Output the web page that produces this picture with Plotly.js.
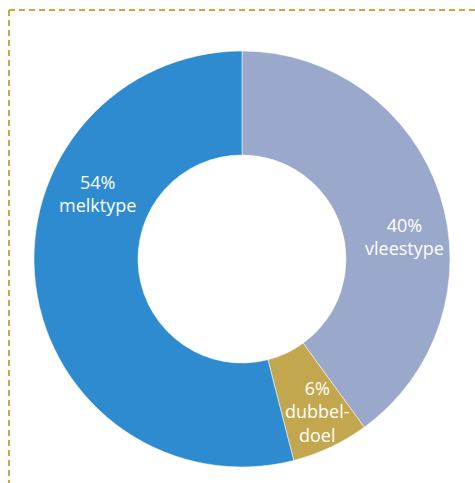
<!DOCTYPE html>
<html><head><meta charset="utf-8">
<script src="https://cdn.plot.ly/plotly-3.0.1.min.js"></script>
<style>html,body{margin:0;padding:0;background:#fff}#chart{width:475px;height:483px}</style>
</head><body><div id="chart"></div>
<script>
const categories = ["vleestype", "dubbeldoel", "melktype"];
const values = [40, 6, 54];
const labelLines = [["vleestype"], ["dubbel-", "doel"], ["melktype"]];
const colors = ["#9aa8cb", "#c3a74e", "#2e8bd0"];

const W = 475, H = 483;
// label block centre in pixels, per slice
const labelAnchors = [
  { x: 404, y: 237 },
  { x: 317, y: 411 },
  { x: 97.5, y: 193 }
];

const trace = {
  type: "pie",
  labels: categories,
  values: values,
  textinfo: "none",
  hoverinfo: "label+percent",
  sort: false,
  direction: "clockwise",
  rotation: 0,
  hole: 0.5,
  marker: { colors: colors, line: { color: "#ffffff", width: 0.5 } },
  domain: { x: [34 / W, 450 / W], y: [16 / H, 432 / H] },
  showlegend: false
};

const annotations = values.map((v, i) => ({
  xref: "paper", yref: "paper",
  x: labelAnchors[i].x / W, y: 1 - labelAnchors[i].y / H,
  xanchor: "center", yanchor: "middle",
  borderpad: 0,
  text: [v + "%"].concat(labelLines[i]).join("<br>"),
  showarrow: false,
  font: { family: "Open Sans, sans-serif", size: 18, color: "#ffffff" }
}));

const dash = { color: "#c9a84a", width: 2, dash: "6px,4px" };
const layout = {
  width: W, height: H,
  margin: { l: 0, r: 0, t: 0, b: 0 },
  paper_bgcolor: "#ffffff",
  showlegend: false,
  annotations: annotations,
  shapes: [
    { type: "line", xref: "paper", yref: "paper", x0: 9 / W, x1: 1, y0: 1 - 10 / H, y1: 1 - 10 / H, line: dash },
    { type: "line", xref: "paper", yref: "paper", x0: 9 / W, x1: 9 / W, y0: 1 - 10 / H, y1: 0, line: dash }
  ]
};
Plotly.newPlot("chart", [trace], layout, { displayModeBar: false, staticPlot: true });
</script></body></html>
